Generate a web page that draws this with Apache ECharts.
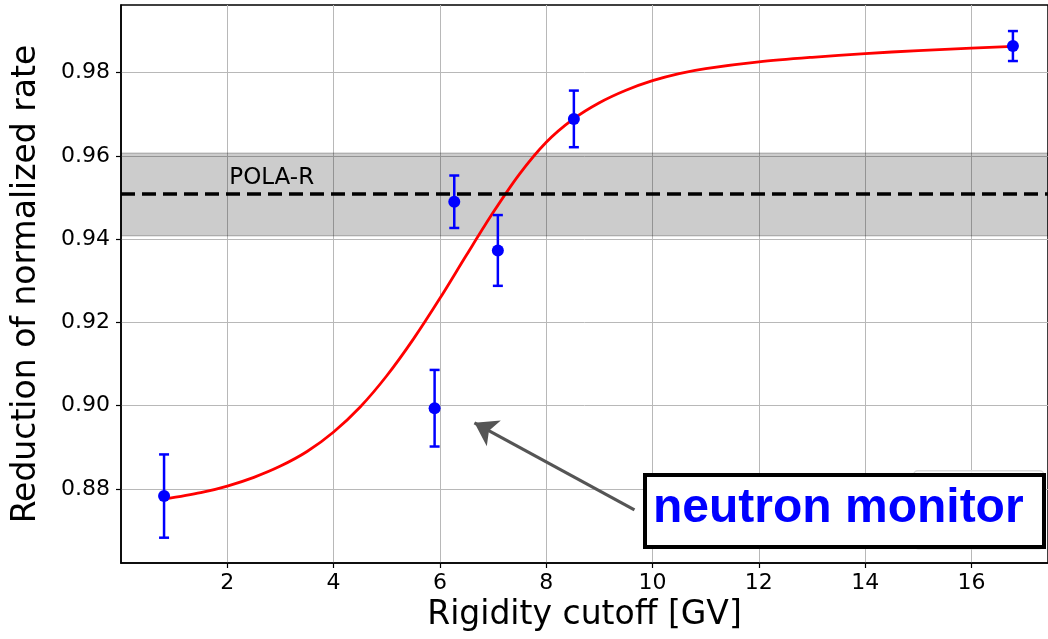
<!DOCTYPE html>
<html>
<head>
<meta charset="utf-8">
<script src="https://cdn.jsdelivr.net/npm/echarts@6/dist/echarts.min.js"></script>
<style>
html,body{margin:0;padding:0;background:#fff;}
#chart{width:1048px;height:639px;}
</style>
</head>
<body>
<div id="chart"></div>
<script>
// ---- data ----
var pointX = [0.81, 5.90, 6.27, 7.09, 8.52, 16.78];
var pointY = [0.8783, 0.8994, 0.9490, 0.9373, 0.9689, 0.9864];
var pointErr = [0.0100, 0.0092, 0.0063, 0.0085, 0.0068, 0.0036];

var curveX = [0.8, 1.5, 2.0, 2.5, 3.0, 3.5, 4.0, 4.5, 5.0, 5.5, 6.0, 6.5, 7.0, 7.5, 8.0, 8.5, 9.0, 9.5, 10.0, 10.5, 11.0, 12.0, 13.0, 14.0, 15.0, 16.0, 16.78];
var curveY = [0.8775, 0.8791, 0.8807, 0.8828, 0.8855, 0.8890, 0.8937, 0.8997, 0.9072, 0.9160, 0.9258, 0.9362, 0.9464, 0.9557, 0.9633, 0.9688, 0.9728, 0.9758, 0.9781, 0.9798, 0.9810, 0.9826, 0.9837, 0.9846, 0.9853, 0.9859, 0.9863];

var polaR = 0.9508;
var polaBand = [0.9408, 0.9607];

var yTicks = [0.88, 0.90, 0.92, 0.94, 0.96, 0.98];
var xTicks = [2, 4, 6, 8, 10, 12, 14, 16];

var arrowTail = [9.66, 0.8750];
var arrowTip = [6.65, 0.8959];

var annotationText = 'neutron monitor';
var polaLabel = 'POLA-R';

// ---- chart ----
var chart = echarts.init(document.getElementById('chart'), null, {renderer: 'canvas'});
var FONT = 'DejaVu Sans';

var points = pointX.map(function (x, i) { return [x, pointY[i]]; });
var errData = pointX.map(function (x, i) { return [x, pointY[i] - pointErr[i], pointY[i] + pointErr[i]]; });
var curve = curveX.map(function (x, i) { return [x, curveY[i]]; });

var option = {
  animation: false,
  backgroundColor: '#ffffff',
  grid: {left: 121, top: 5, right: 0, bottom: 76, show: true, borderColor: '#000', borderWidth: 1.5, backgroundColor: 'transparent'},
  xAxis: {
    type: 'value',
    min: 0,
    max: 17.44,
    name: 'Rigidity cutoff [GV]',
    nameLocation: 'middle',
    nameGap: 32,
    nameTextStyle: {fontFamily: FONT, fontSize: 33, color: '#000'},
    axisLine: {show: true, onZero: false, lineStyle: {color: '#000', width: 1.5}},
    axisTick: {show: true, length: 5, inside: false, lineStyle: {color: '#000', width: 1.2}, customValues: xTicks},
    axisLabel: {fontFamily: FONT, fontSize: 22, color: '#000', margin: 9, customValues: xTicks},
    splitLine: {show: true, lineStyle: {color: '#b8b8b8', width: 1}}
  },
  yAxis: {
    type: 'value',
    min: 0.86222,
    max: 0.99626,
    name: 'Reduction of normalized rate',
    nameLocation: 'middle',
    nameGap: 78,
    nameTextStyle: {fontFamily: FONT, fontSize: 33, color: '#000'},
    axisLine: {show: true, onZero: false, lineStyle: {color: '#000', width: 1.5}},
    axisTick: {show: true, length: 5, inside: false, lineStyle: {color: '#000', width: 1.2}, customValues: yTicks},
    axisLabel: {fontFamily: FONT, fontSize: 22, color: '#000', margin: 11, customValues: yTicks,
      formatter: function (v) { return v.toFixed(2); }},
    splitLine: {show: true, lineStyle: {color: '#b8b8b8', width: 1}}
  },
  series: [
    {
      type: 'line',
      data: [],
      silent: true,
      markArea: {
        silent: true,
        precision: 5,
        itemStyle: {color: 'rgba(0,0,0,0.2)', borderColor: 'rgba(0,0,0,0.25)', borderWidth: 1},
        data: [[{yAxis: polaBand[0]}, {yAxis: polaBand[1]}]]
      },
      markLine: {
        silent: true,
        precision: 5,
        symbol: ['none', 'none'],
        label: {show: false},
        lineStyle: {color: '#000', width: 3.5, type: [14, 7]},
        data: [{yAxis: polaR}]
      },
      markPoint: {
        silent: true,
        symbol: 'circle',
        symbolSize: 0,
        label: {show: true, formatter: polaLabel, position: 'right', align: 'left', verticalAlign: 'bottom',
          offset: [-3, -5], fontFamily: FONT, fontSize: 23, color: '#000'},
        data: [{coord: [2.0, polaR]}]
      },
      z: 1
    },
    {
      type: 'line',
      data: curve,
      smooth: 0.3,
      showSymbol: false,
      lineStyle: {color: '#ff0000', width: 2.8},
      silent: true,
      z: 3
    },
    {
      type: 'custom',
      data: errData,
      renderItem: function (params, api) {
        var x = api.value(0);
        var lo = api.coord([x, api.value(1)]);
        var hi = api.coord([x, api.value(2)]);
        var cap = 5;
        var style = {stroke: '#0000ff', lineWidth: 2.5};
        return {
          type: 'group',
          children: [
            {type: 'line', shape: {x1: lo[0], y1: lo[1], x2: hi[0], y2: hi[1]}, style: style},
            {type: 'line', shape: {x1: lo[0] - cap, y1: lo[1], x2: lo[0] + cap, y2: lo[1]}, style: style},
            {type: 'line', shape: {x1: hi[0] - cap, y1: hi[1], x2: hi[0] + cap, y2: hi[1]}, style: style}
          ]
        };
      },
      encode: {x: 0, y: [1, 2]},
      silent: true,
      z: 4
    },
    {
      type: 'scatter',
      data: points,
      symbol: 'circle',
      symbolSize: 12,
      itemStyle: {color: '#0000ff', opacity: 1},
      silent: true,
      z: 5,
      markLine: {
        silent: true,
        precision: 5,
        symbol: ['none', 'arrow'],
        symbolSize: 22,
        label: {show: false},
        lineStyle: {color: '#555555', width: 3.2, type: 'solid'},
        itemStyle: {color: '#555555'},
        data: [[{coord: arrowTail}, {coord: arrowTip}]]
      }
    }
  ],
  graphic: [
    {
      type: 'rect',
      left: 913, top: 470,
      shape: {width: 130, height: 78, r: 4},
      style: {fill: 'rgba(255,255,255,0.85)', stroke: '#d8d8d8', lineWidth: 1.5},
      z: 10
    },
    {
      type: 'rect',
      left: 643, top: 473,
      shape: {width: 399, height: 72},
      style: {fill: '#ffffff', stroke: '#000000', lineWidth: 4},
      z: 11
    },
    {
      type: 'text',
      left: 653, top: 485,
      style: {text: annotationText, fill: '#0000ff', font: 'bold 48px "Liberation Sans", Arial, sans-serif'},
      z: 12
    }
  ]
};
chart.setOption(option);
</script>
</body>
</html>
